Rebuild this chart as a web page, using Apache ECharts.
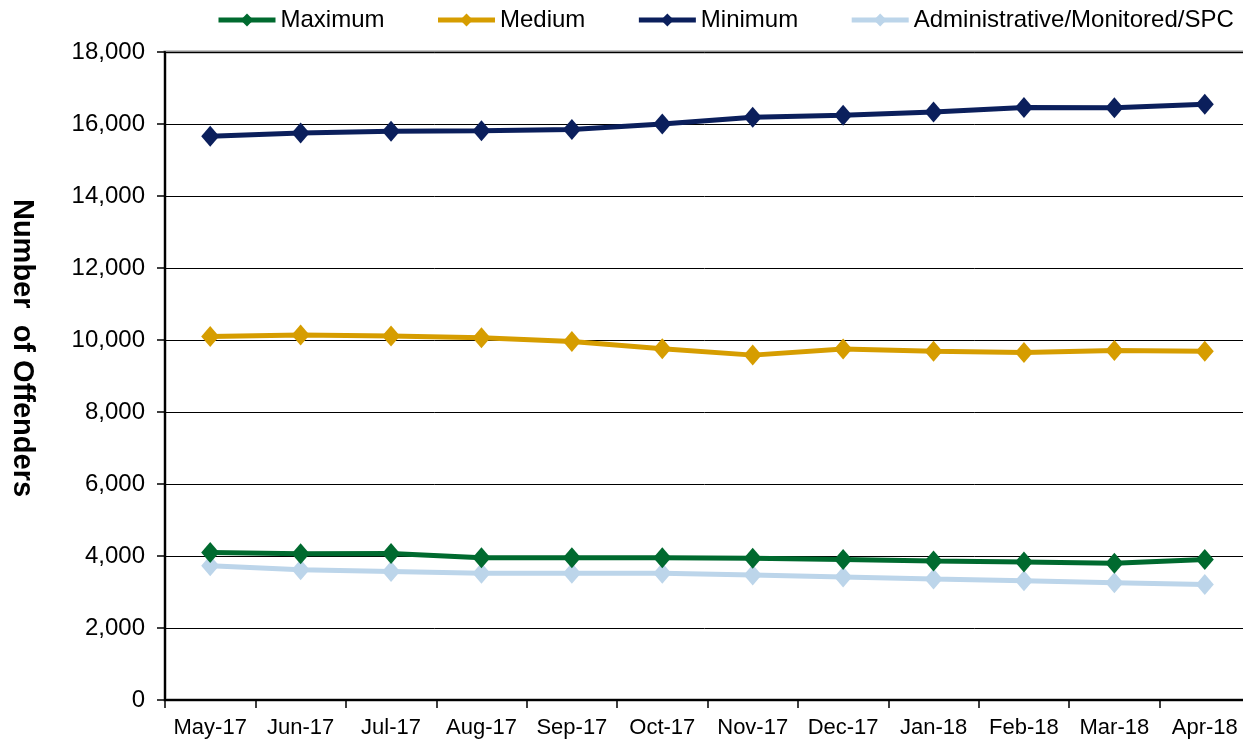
<!DOCTYPE html>
<html>
<head>
<meta charset="utf-8">
<script src="https://cdn.jsdelivr.net/npm/echarts@6/dist/echarts.min.js"></script>
<style>
html,body{margin:0;padding:0;background:#fff;}
#chart{width:1243px;height:746px;}
</style>
</head>
<body>
<div id="chart"></div>
<script>
const categories = ['May-17','Jun-17','Jul-17','Aug-17','Sep-17','Oct-17','Nov-17','Dec-17','Jan-18','Feb-18','Mar-18','Apr-18'];
const maximum = [4100, 4060, 4070, 3950, 3950, 3950, 3940, 3900, 3860, 3830, 3800, 3900];
const medium = [10100, 10140, 10110, 10060, 9960, 9760, 9580, 9750, 9690, 9650, 9710, 9690];
const minimum = [15660, 15750, 15800, 15810, 15850, 16000, 16190, 16240, 16330, 16460, 16450, 16550];
const admin = [3730, 3620, 3570, 3520, 3520, 3520, 3470, 3420, 3360, 3310, 3260, 3210];
const seriesNames = ['Maximum', 'Medium', 'Minimum', 'Administrative/Monitored/SPC'];
const yTitle = 'Number  of Offenders';

const FONT = '"Liberation Sans", Arial, sans-serif';
const colors = ['#006a2f', '#d69d00', '#0b1f5c', '#bcd5ea'];

function mk(name, data, color, z) {
  return {
    name: name,
    type: 'line',
    data: data,
    z: z,
    symbol: 'diamond',
    symbolSize: [18, 21],
    lineStyle: { color: color, width: 5 },
    itemStyle: { color: color, borderWidth: 0 },
    emphasis: { disabled: true },
    animation: false
  };
}

const chart = echarts.init(document.getElementById('chart'), null, { renderer: 'canvas' });
chart.setOption({
  animation: false,
  color: colors,
  legend: {
    left: 211,
    top: 3,
    width: 1100,
    itemWidth: 57,
    itemHeight: 16,
    itemGap: 51,
    lineStyle: { width: 5 },
    textStyle: { fontFamily: FONT, fontSize: 24, color: '#000', lineHeight: 24 },
    data: seriesNames
  },
  grid: {
    left: 165, top: 52, right: -7, bottom: 46,
    outerBoundsMode: 'none',
    show: true, borderColor: '#8c8c8c', borderWidth: 3, backgroundColor: 'transparent',
    containLabel: false
  },
  xAxis: {
    type: 'category',
    data: categories,
    boundaryGap: true,
    axisLine: { lineStyle: { color: '#000', width: 2 } },
    axisTick: { show: true, interval: 0, length: 8, lineStyle: { color: '#000', width: 1.5 } },
    axisLabel: { interval: 0, hideOverlap: false, fontFamily: FONT, fontSize: 22, color: '#000', margin: 17 },
    splitLine: { show: false }
  },
  yAxis: {
    type: 'value',
    min: 0, max: 18000, interval: 2000,
    axisLine: { show: true, lineStyle: { color: '#000', width: 2 } },
    axisTick: { show: true, length: 8, lineStyle: { color: '#000', width: 1.5 } },
    axisLabel: {
      fontFamily: FONT, fontSize: 24, color: '#000', margin: 20,
      formatter: function (v) { return v.toLocaleString('en-US'); }
    },
    splitLine: { show: true, lineStyle: { color: '#000', width: 1 } }
  },
  graphic: [{
    type: 'text',
    x: 22, y: 348,
    rotation: -Math.PI / 2,
    style: {
      text: yTitle,
      font: 'bold 29px ' + FONT,
      fill: '#000',
      textAlign: 'center',
      textVerticalAlign: 'middle'
    }
  }],
  series: [
    mk(seriesNames[0], maximum, colors[0], 5),
    mk(seriesNames[1], medium, colors[1], 3),
    mk(seriesNames[2], minimum, colors[2], 3),
    mk(seriesNames[3], admin, colors[3], 2)
  ]
});
</script>
</body>
</html>
